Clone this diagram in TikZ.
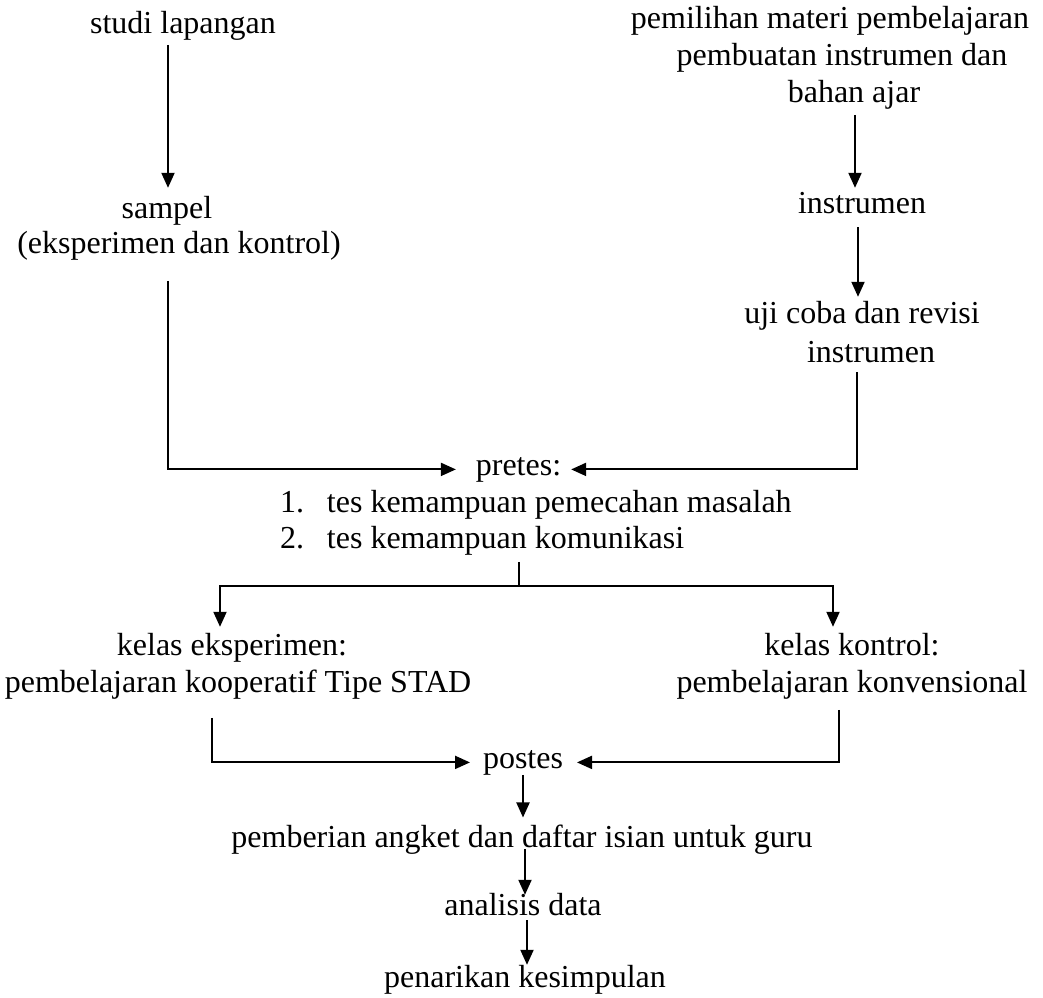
\documentclass[tikz,border=0pt]{standalone}
\usepackage{fontspec}
\setmainfont{Liberation Serif}
\usetikzlibrary{arrows.meta}
\begin{document}
\begin{tikzpicture}[x=1pt,y=-1pt,
  txt/.style={inner sep=0pt, outer sep=0pt, font=\fontsize{32}{36}\selectfont, align=center, anchor=base},
  conn/.style={line width=2pt},
  arr/.style={line width=2pt, -{Triangle[length=15pt,width=13pt]}}]
\useasboundingbox (0,0) rectangle (1043,997);
% column coordinates
\coordinate (cL) at (168,0);
\coordinate (cR1) at (855,0);
\coordinate (cR2) at (858,0);
\coordinate (cR3) at (857,0);
\coordinate (cM) at (519,0);
\coordinate (jn) at (519,586);
\coordinate (cEL) at (220,0);
\coordinate (cKR) at (833,0);
\coordinate (cE2) at (212,0);
\coordinate (cK2) at (839,0);
\coordinate (cB1) at (523,0);
\coordinate (cB2) at (525,0);
\coordinate (cB3) at (527,0);
% nodes (anchor base = baseline of the last line)
\node[txt] (studi) at (183,33) {studi lapangan};
\node[txt] (sampel) at (173,253) {sampel\rule{12pt}{0pt}\\[-1pt]\rule{12pt}{0pt}(eksperimen dan kontrol)};
\node[txt] (pemilihan) at (842,102) {pemilihan materi pembelajaran\rule{24pt}{0pt}\\[1pt]pembuatan instrumen dan\\[1pt]\rule{24pt}{0pt}bahan ajar};
\node[txt] (instr) at (862,213) {instrumen};
\node[txt] (uji) at (866.5,362) {uji coba dan revisi\rule{9pt}{0pt}\\[3pt]\rule{9pt}{0pt}instrumen};
\node[txt] (pretes) at (518.5,475) {pretes:};
\node[txt, anchor=base west, align=left] (list) at (280,548) {\makebox[47pt][l]{1.}tes kemampuan pemecahan masalah\\\makebox[47pt][l]{2.}tes kemampuan komunikasi};
\node[txt] (kelasE) at (238,692) {kelas eksperimen:\rule{12pt}{0pt}\\[1pt]pembelajaran kooperatif Tipe STAD};
\node[txt] (kelasK) at (852,692) {kelas kontrol:\\[1pt]pembelajaran konvensional};
\node[txt] (postes) at (523,768) {postes};
\node[txt] (pemberian) at (522,847) {pemberian angket dan daftar isian untuk guru};
\node[txt] (analisis) at (523,915) {analisis data};
\node[txt] (penarikan) at (525,987) {penarikan kesimpulan};
% connectors
\draw[arr, shorten <=5pt, shorten >=8pt] (studi.south -| cL) -- (sampel.north -| cL);
\draw[arr, shorten <=21pt, shorten >=20pt] (sampel.south -| cL) -- (cL |- pretes.west) -- (pretes.west);
\draw[arr, shorten <=6pt, shorten >=4pt] (pemilihan.south -| cR1) -- (instr.north -| cR1);
\draw[arr, shorten <=14pt, shorten >=4pt] (instr.south -| cR2) -- (uji.north -| cR2);
\draw[arr, shorten <=10pt, shorten >=10pt] (uji.south -| cR3) -- (cR3 |- pretes.east) -- (pretes.east);
\draw[conn, shorten <=7pt] (list.south -| cM) -- (jn);
\draw[arr, shorten >=6pt] (jn) -| (kelasE.north -| cEL);
\draw[arr, shorten >=6pt] (jn) -| (kelasK.north -| cKR);
\draw[arr, shorten <=19pt, shorten >=13pt] (kelasE.south -| cE2) -- (cE2 |- postes.west) -- (postes.west);
\draw[arr, shorten <=11pt, shorten >=14pt] (kelasK.south -| cK2) -- (cK2 |- postes.east) -- (postes.east);
\draw[arr, shorten >=7pt] (postes.south -| cB1) -- (pemberian.north -| cB1);
\draw[arr, shorten <=-5pt, shorten >=-2pt] (pemberian.south -| cB2) -- (analisis.north -| cB2);
\draw[arr, shorten <=5pt] (analisis.south -| cB3) -- (penarikan.north -| cB3);
\end{tikzpicture}
\end{document}
